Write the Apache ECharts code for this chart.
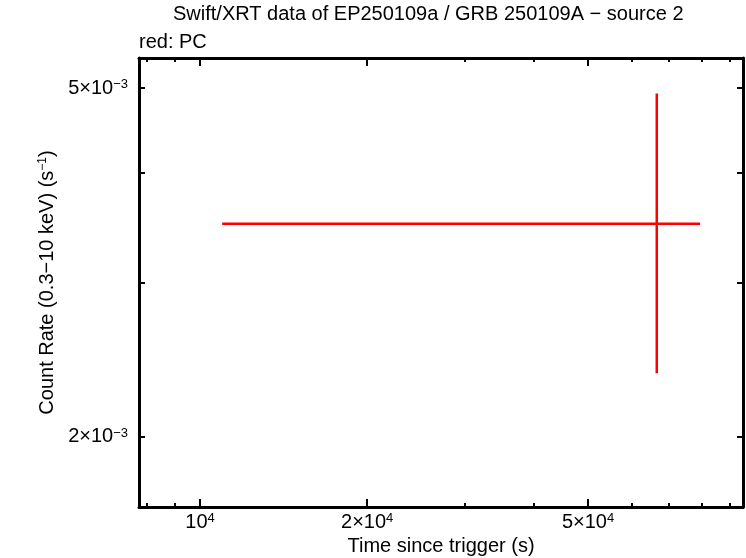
<!DOCTYPE html>
<html>
<head>
<meta charset="utf-8">
<script src="https://cdn.jsdelivr.net/npm/echarts@6/dist/echarts.min.js"></script>
<style>html,body{margin:0;padding:0;background:#fff}#c{width:746px;height:558px}</style>
</head>
<body>
<div id="c"></div>
<script>
// data (PC mode)
const timeMid = [66500];
const timeLo = [10960];
const timeHi = [79600];
const rateMid = [3.50e-3];
const rateLo = [2.364e-3];
const rateHi = [4.93e-3];

const xMajorTicks = [10000, 20000, 50000];
const xMinorTicks = [8000, 9000, 30000, 40000, 60000, 70000, 80000, 90000];
const yTicks = [0.002, 0.003, 0.004, 0.005];
const yLabelTicks = [0.002, 0.005];

const FONT = 'Liberation Sans';
const rich = {
  b: {fontFamily: FONT, fontSize: 20, color: '#000', lineHeight: 20},
  s: {fontFamily: FONT, fontSize: 13, color: '#000', lineHeight: 13, verticalAlign: 'top'}
};

function sciLabel(v) {
  const e = Math.floor(Math.log10(v) + 1e-9);
  const m = Math.round(v / Math.pow(10, e));
  const exp = e < 0 ? '\u2212' + (-e) : String(e);
  return (m === 1 ? '{b|10}' : '{b|' + m + '\u00d710}') + '{s|' + exp + '}';
}

const data = timeMid.map((t, i) => [t, timeLo[i], timeHi[i], rateMid[i], rateLo[i], rateHi[i]]);

const xRange = {min: 7762, max: 95100};
const yRange = {min: 1.664e-3, max: 5.41e-3};
const lineStyle = {color: '#000', width: 3};

function xAxisDef(pos, ticks, len, showLine, showLabels, name) {
  return {
    type: 'log', position: pos, min: xRange.min, max: xRange.max,
    axisLine: {show: showLine, onZero: false, lineStyle: lineStyle},
    axisTick: {show: true, inside: true, length: len, customValues: ticks, lineStyle: {color: '#000', width: 2}},
    axisLabel: showLabels ? {show: true, customValues: ticks, margin: 5, formatter: sciLabel, rich: rich} : {show: false},
    splitLine: {show: false},
    name: name || '', nameLocation: 'middle', nameGap: 28,
    nameTextStyle: {fontFamily: FONT, fontSize: 20, color: '#000'}
  };
}
function yAxisDef(pos, showLabels, name) {
  return {
    type: 'log', position: pos, min: yRange.min, max: yRange.max,
    axisLine: {show: true, onZero: false, lineStyle: lineStyle},
    axisTick: {show: true, inside: true, length: 6, customValues: yTicks, lineStyle: {color: '#000', width: 2}},
    axisLabel: showLabels ? {show: true, customValues: yLabelTicks, margin: 11, formatter: sciLabel, rich: rich} : {show: false},
    splitLine: {show: false},
    name: name || '', nameLocation: 'middle', nameGap: 82,
    nameTextStyle: {fontFamily: FONT, fontSize: 20, color: '#000',
      rich: {
        n: {fontFamily: FONT, fontSize: 20, color: '#000', lineHeight: 20},
        s: {fontFamily: FONT, fontSize: 12, color: '#000', lineHeight: 12, verticalAlign: 'top'}
      }}
  };
}

const chart = echarts.init(document.getElementById('c'), null, {renderer: 'canvas'});
chart.setOption({
  backgroundColor: '#fff',
  animation: false,
  title: [
    {text: 'Swift/XRT data of EP250109a / GRB 250109A \u2212 source 2', left: 168, top: -1,
     textStyle: {fontFamily: FONT, fontSize: 20, fontWeight: 'normal', color: '#000'}},
    {text: 'red: PC', left: 134, top: 27,
     textStyle: {fontFamily: FONT, fontSize: 20, fontWeight: 'normal', color: '#000'}}
  ],
  grid: {left: 139, right: 3, top: 58, bottom: 51, containLabel: false, outerBoundsMode: 'none'},
  xAxis: [
    xAxisDef('bottom', xMajorTicks, 8, true, true, 'Time since trigger (s)'),
    xAxisDef('bottom', xMinorTicks, 4, false, false),
    xAxisDef('top', xMajorTicks, 8, true, false),
    xAxisDef('top', xMinorTicks, 4, false, false)
  ],
  yAxis: [
    yAxisDef('left', true, '{n|Count Rate (0.3\u221210 keV) (s}{s|\u22121}{n|)}'),
    yAxisDef('right', false)
  ],
  series: [{
    type: 'custom',
    xAxisIndex: 0, yAxisIndex: 0,
    clip: true,
    encode: {x: [0, 1, 2], y: [3, 4, 5]},
    data: data,
    renderItem: function (params, api) {
      const t = api.value(0), tl = api.value(1), th = api.value(2);
      const r = api.value(3), rl = api.value(4), rh = api.value(5);
      const pL = api.coord([tl, r]), pR = api.coord([th, r]);
      const pT = api.coord([t, rh]), pB = api.coord([t, rl]);
      const st = {stroke: '#ff0000', lineWidth: 2.5};
      return {type: 'group', children: [
        {type: 'line', shape: {x1: pL[0], y1: pL[1], x2: pR[0], y2: pR[1]}, style: st},
        {type: 'line', shape: {x1: pT[0], y1: pT[1], x2: pB[0], y2: pB[1]}, style: st}
      ]};
    }
  }]
});
</script>
</body>
</html>
